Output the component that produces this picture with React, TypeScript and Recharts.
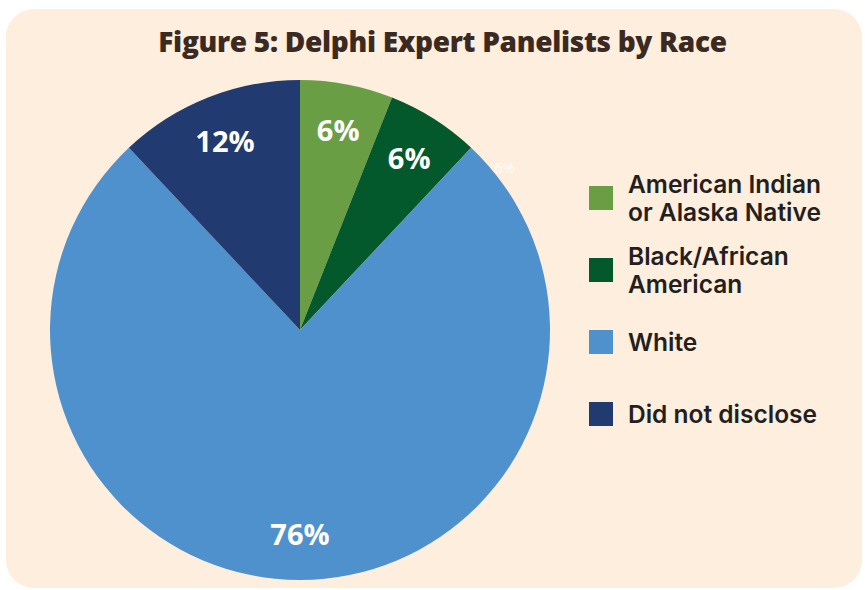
import { PieChart, Pie, Cell } from "recharts";

const categories = ["American Indian\nor Alaska Native", "Black/African\nAmerican", "White", "Did not disclose"];
const shares = [6, 6, 76, 12];
const colors = ["#6a9e45", "#03592c", "#4f91cd", "#213a70"];

const data = categories.map((name, i) => ({ name, value: shares[i] }));

const RAD = Math.PI / 180;

function renderLabel(props: any) {
  const { cx, cy, midAngle, outerRadius, index, value } = props;
  const r = outerRadius * 0.815;
  const x = cx + r * Math.cos(-midAngle * RAD);
  const y = cy + r * Math.sin(-midAngle * RAD);
  const main = (
    <text
      key={"l" + index}
      x={x}
      y={y}
      fill="#ffffff"
      textAnchor="middle"
      dominantBaseline="central"
      style={{ fontFamily: "Open Sans", fontWeight: 700, fontSize: 29 }}
    >
      {value}%
    </text>
  );
  if (index !== 1) return main;
  // faint leftover outside label
  const a = (midAngle - 19) * RAD;
  const r2 = outerRadius + 12;
  return (
    <g key={"g" + index}>
      {main}
      <text
        x={cx + r2 * Math.cos(-a)}
        y={cy + r2 * Math.sin(-a)}
        fill="#ffffff"
        fillOpacity={0.85}
        textAnchor="middle"
        dominantBaseline="central"
        style={{ fontFamily: "Open Sans", fontWeight: 400, fontSize: 15 }}
      >
        {value}%
      </text>
    </g>
  );
}

function LegendBox() {
  return (
    <div
      style={{
        position: "absolute",
        left: 589,
        top: 162,
        width: 275,
        fontFamily: "Inter",
        fontWeight: 600,
        fontSize: 24.5,
        color: "#231f20",
        lineHeight: "28px",
      }}
    >
      {data.map((d, i) => (
        <div key={d.name} style={{ display: "flex", alignItems: "center", height: 72 }}>
          <div style={{ width: 24, height: 24, background: colors[i], marginRight: 15, flexShrink: 0 }} />
          <div style={{ whiteSpace: "pre" }}>{d.name}</div>
        </div>
      ))}
    </div>
  );
}

export default function App() {
  return (
    <div style={{ position: "absolute", left: 0, top: 0, width: 865, height: 590, background: "#ffffff" }}>
      <div
        style={{
          position: "absolute",
          left: 6,
          top: 9,
          width: 856,
          height: 579,
          background: "#fdeedd",
          borderRadius: 28,
        }}
      />
      <div
        style={{
          position: "absolute",
          left: 0,
          top: 22,
          width: 885,
          textAlign: "center",
          fontFamily: "Open Sans",
          fontWeight: 800,
          fontSize: 28,
          color: "#3b2a22",
          letterSpacing: -0.3,
        }}
      >
        Figure 5: Delphi Expert Panelists by Race
      </div>
      <div style={{ position: "absolute", left: 0, top: 0 }}>
        <PieChart width={865} height={590} margin={{ top: 0, right: 0, bottom: 0, left: 0 }}>
          <Pie
            data={data}
            dataKey="value"
            nameKey="name"
            cx={300}
            cy={330}
            outerRadius={250}
            startAngle={90}
            endAngle={-270}
            stroke="none"
            label={renderLabel}
            labelLine={false}
            isAnimationActive={false}
          >
            {data.map((d, i) => (
              <Cell key={d.name} fill={colors[i]} />
            ))}
          </Pie>
        </PieChart>
      </div>
      <LegendBox />
    </div>
  );
}
